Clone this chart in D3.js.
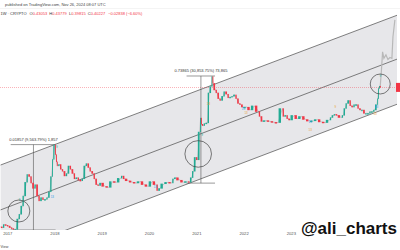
<!DOCTYPE html>
<html>
<head>
<meta charset="utf-8">
<script src="https://cdn.jsdelivr.net/npm/d3@7"></script>
<style>
html, body { margin:0; padding:0; background:#fff; }
svg { display:block; font-family:"Liberation Sans", Arial, sans-serif; }
</style>
</head>
<body>
<div class="chart"></div>
<script>
var dates = [
"2016-11-15","2016-12-01","2016-12-15","2017-01-01","2017-01-15","2017-02-01","2017-02-15","2017-03-01","2017-03-15",
"2017-04-01","2017-04-15","2017-05-01","2017-05-15","2017-06-01","2017-06-15","2017-07-01","2017-07-15","2017-08-01",
"2017-08-15","2017-09-01","2017-09-15","2017-10-01","2017-10-15","2017-11-01","2017-11-15","2017-12-01","2017-12-15",
"2017-12-25","2018-01-07","2018-01-15","2018-01-21","2018-02-01","2018-02-15","2018-03-01","2018-03-15","2018-04-01",
"2018-04-15","2018-05-01","2018-05-15","2018-06-01","2018-06-15","2018-07-01","2018-07-15","2018-08-01","2018-08-15",
"2018-09-01","2018-09-15","2018-10-01","2018-10-15","2018-11-01","2018-11-15","2018-12-01","2018-12-15","2019-01-01",
"2019-02-01","2019-03-01","2019-04-01","2019-05-01","2019-06-01","2019-06-15","2019-07-01","2019-08-01","2019-09-01",
"2019-10-01","2019-11-01","2019-12-01","2020-01-01","2020-02-01","2020-03-01","2020-03-15","2020-04-01","2020-05-01",
"2020-06-01","2020-07-01","2020-07-15","2020-08-01","2020-09-01","2020-10-01","2020-11-01","2020-11-15","2020-12-01",
"2020-12-15","2021-01-01","2021-01-15","2021-02-01","2021-02-08","2021-02-15","2021-03-01","2021-03-15","2021-04-01",
"2021-04-15","2021-05-01","2021-05-08","2021-05-15","2021-06-01","2021-06-15","2021-07-01","2021-07-15","2021-08-01",
"2021-08-15","2021-09-01","2021-09-15","2021-10-01","2021-10-15","2021-11-01","2021-11-15","2021-12-01","2021-12-15",
"2022-01-01","2022-02-01","2022-03-01","2022-04-01","2022-05-01","2022-05-15","2022-06-01","2022-07-01","2022-08-01",
"2022-09-01","2022-10-01","2022-11-01","2022-11-15","2022-12-01","2022-12-15","2023-01-01","2023-02-01","2023-03-01",
"2023-04-01","2023-05-01","2023-06-01","2023-07-01","2023-08-01","2023-09-01","2023-10-01","2023-11-01","2023-11-15",
"2023-12-01","2023-12-15","2024-01-01","2024-02-01","2024-02-15","2024-03-01","2024-03-15","2024-04-01","2024-04-15",
"2024-05-01","2024-05-15","2024-06-01","2024-06-15","2024-07-01","2024-07-15","2024-08-01","2024-08-15","2024-09-01",
"2024-09-15","2024-10-01","2024-10-15","2024-11-01","2024-11-08","2024-11-15","2024-11-22","2024-11-26"
];
var closes = [
0.00023,0.00022,0.00026,0.00025,0.00024,0.00022,0.00021,0.00020,0.00020,
0.00035,0.00045,0.00070,0.0012,0.0025,0.0038,0.0034,0.0024,0.0018,
0.0022,0.0012,0.00092,0.0011,0.00098,0.0010,0.0011,0.0015,0.0034,
0.0085,0.0185,0.0110,0.0075,0.0060,0.0065,0.0050,0.0045,0.0035,
0.0040,0.0060,0.0050,0.0040,0.0030,0.0032,0.0028,0.0027,0.0030,
0.0060,0.0068,0.0055,0.0045,0.0040,0.0030,0.0022,0.0021,0.0024,
0.0020,0.0019,0.0026,0.0025,0.0031,0.0035,0.0030,0.0027,0.0025,
0.0024,0.0026,0.0022,0.0020,0.0026,0.0022,0.0016,0.0018,0.0023,
0.0025,0.0024,0.0030,0.0032,0.0028,0.0025,0.0026,0.0025,0.0032,
0.0045,0.0095,0.0083,0.037,0.078,0.056,0.052,0.058,0.060,
0.30,0.42,0.72,0.50,0.35,0.30,0.22,0.20,0.25,
0.32,0.28,0.23,0.24,0.25,0.27,0.22,0.17,0.16,
0.14,0.14,0.12,0.15,0.11,0.085,0.065,0.068,0.065,
0.062,0.061,0.13,0.085,0.090,0.075,0.070,0.090,0.075,
0.085,0.072,0.066,0.067,0.072,0.063,0.061,0.070,0.080,
0.090,0.095,0.090,0.080,0.090,0.13,0.17,0.20,0.15,
0.14,0.16,0.16,0.13,0.12,0.12,0.10,0.10,0.10,
0.11,0.11,0.12,0.16,0.22,0.38,0.43,0.40227
];

// grey projected path on the right
var ghostDates = ["2024-11-26","2024-12-05","2024-12-15","2024-12-25","2025-01-10","2025-01-25","2025-02-10","2025-02-25","2025-03-05","2025-03-20"];
var ghostPrices = [0.40, 0.9, 2.7, 1.9, 2.3, 1.8, 2.0, 1.9, 6.0, 15];

// log channel
var channelDates = ["2016-11-15","2025-04-10"];
var channelUpper = [0.0063, 19.4];
var channelMid = [0.00057, 1.85];
var channelLower = [0.000051, 0.165];

// price range measurements
var measureStart = ["2017-02-01","2020-10-22"];
var measureEnd = ["2018-01-14","2021-05-30"];
var measureMid = ["2017-07-27","2021-02-10"];
var measureLow = [0.000194, 0.00239];
var measureHigh = [0.0188, 0.741];
var measureText = ["0.01857 (9,563.79%) 1,857","0.73865 (30,853.75%) 73,865"];

// circled breakouts
var circleDates = ["2017-04-05","2021-01-20","2024-11-27"];
var circlePrices = [0.000537, 0.0114, 0.483];
var circleRadius = [11, 13.3, 10];

// small sequential count labels
var markDates = ["2017-04-10","2018-01-24","2017-12-20","2020-02-25","2021-02-20","2021-04-10","2022-01-05","2022-01-25","2023-06-05","2023-06-05","2023-12-15","2024-10-18","2024-10-30","2024-11-27"];
var markPrices = [0.0009, 0.016, 0.0011, 0.0018, 0.03, 0.16, 0.12, 0.097, 0.06, 0.039, 0.134, 0.092, 0.134, 0.7];
var markLabels = ["9","9","13","13","9","13","13","13","13","13","9","13","13","9"];
var markKinds = ["g","g","b","b","g","o","b","o","b","o","o","o","b","g"];

var yearTicks = [2017, 2018, 2019, 2020, 2021, 2022, 2023];

var ohlcKeys = ["O","H","L","C"];
var ohlcVals = ["0.43053","0.43779","0.39815","0.40227"];
var changeText = "\u22120.02838 (\u22126.60%)";

function wrapper(){

var w = 400, h = 250;
var svg = d3.select("div.chart")
            .append("svg")
            .attr("width", w)
            .attr("height", h);

var parse = d3.utcParse("%Y-%m-%d");

var x = d3.scaleUtc()
          .domain([parse("2016-11-15"), parse("2025-04-10")])
          .range([0.6, 397.6]);
var y = d3.scaleLog()
          .domain([0.000194, 26.8])
          .range([230, 9]);

svg.append("clipPath").attr("id", "plot")
   .append("rect").attr("x", 0).attr("y", 9).attr("width", 397).attr("height", 221);

var plot = svg.append("g").attr("clip-path", "url(#plot)");

//channel fill
var cd = channelDates.map(parse);
var poly = [[x(cd[0]), y(channelUpper[0])], [x(cd[1]), y(channelUpper[1])],
            [x(cd[1]), y(channelLower[1])], [x(cd[0]), y(channelLower[0])]];
plot.append("path")
    .attr("d", "M" + poly.join("L") + "Z")
    .attr("fill", "#e7e7ea");

var chLine = d3.line().x(function(d){ return x(d[0]); }).y(function(d){ return y(d[1]); });
[channelUpper, channelMid, channelLower].forEach(function(arr){
  plot.append("path")
      .attr("d", chLine(cd.map(function(t, i){ return [t, arr[i]]; })))
      .attr("fill", "none")
      .attr("stroke", "#4a4a4a")
      .attr("stroke-width", 0.7);
});

//current price line
var last = closes[closes.length - 1];
plot.append("line")
    .attr("x1", 0).attr("x2", 397)
    .attr("y1", y(last)).attr("y2", y(last))
    .attr("stroke", "#f23645")
    .attr("stroke-width", 0.6)
    .attr("stroke-dasharray", "1,1")
    .attr("opacity", 0.7);

//ghost projection
plot.append("path")
    .attr("d", chLine(ghostDates.map(function(d, i){ return [parse(d), ghostPrices[i]]; })))
    .attr("fill", "none")
    .attr("stroke", "#b8b8b8")
    .attr("stroke-width", 1.2);

//measure tools
measureText.forEach(function(t, i){
  var x0 = x(parse(measureStart[i])), x1 = x(parse(measureEnd[i])), xm = x(parse(measureMid[i]));
  var g = plot.append("g").attr("stroke", "#555").attr("stroke-width", 0.6);
  g.append("line").attr("x1", x0).attr("x2", x1).attr("y1", y(measureHigh[i])).attr("y2", y(measureHigh[i]));
  g.append("line").attr("x1", x0).attr("x2", x1).attr("y1", y(measureLow[i])).attr("y2", y(measureLow[i]));
  g.append("line").attr("x1", xm).attr("x2", xm).attr("y1", y(measureHigh[i])).attr("y2", y(measureLow[i]));
  plot.append("text")
      .attr("x", xm).attr("y", y(measureHigh[i]) - 4)
      .attr("text-anchor", "middle")
      .attr("font-size", 4)
      .attr("fill", "#333")
      .text(t);
});

//thin close path so candles read as a continuous series
plot.append("path")
    .attr("d", chLine(dates.map(function(d, i){ return [parse(d), closes[i]]; })))
    .attr("fill", "none")
    .attr("stroke", "#8a8a8a")
    .attr("stroke-width", 0.4);

//candles
var candles = closes.slice(1).map(function(c, i){
  return {t0: parse(dates[i]), t1: parse(dates[i + 1]), o: closes[i], c: c};
});
plot.selectAll(".candle")
    .data(candles)
    .enter()
    .append("rect")
      .attr("class", "candle")
      .attr("x", function(d){ return x(d.t0) + 0.3; })
      .attr("width", function(d){ return Math.max(0.9, Math.min(2.4, x(d.t1) - x(d.t0) - 0.5)); })
      .attr("y", function(d){ return Math.min(y(d.o), y(d.c)) - 0.2; })
      .attr("height", function(d){ return Math.max(1.4, Math.abs(y(d.o) - y(d.c)) + 0.4); })
      .attr("fill", function(d){ return d.c >= d.o ? "#22ab94" : "#f23645"; });

//count labels
var markColor = {g: "#22ab94", b: "#2e9be6", o: "#e8a33a"};
plot.selectAll(".mark")
    .data(markLabels)
    .enter()
    .append("text")
      .attr("x", function(d, i){ return x(parse(markDates[i])); })
      .attr("y", function(d, i){ return y(markPrices[i]); })
      .attr("text-anchor", "middle")
      .attr("font-size", 3)
      .attr("fill", function(d, i){ return markColor[markKinds[i]]; })
      .text(function(d){ return d; });

//circles
plot.selectAll(".ring")
    .data(circleDates)
    .enter()
    .append("circle")
      .attr("cx", function(d){ return x(parse(d)); })
      .attr("cy", function(d, i){ return y(circlePrices[i]); })
      .attr("r", function(d, i){ return circleRadius[i]; })
      .attr("fill", "none")
      .attr("stroke", "#444")
      .attr("stroke-width", 0.7);

//price label on right edge
svg.append("rect")
   .attr("x", 396).attr("y", y(last) - 4.5)
   .attr("width", 10).attr("height", 9)
   .attr("fill", "#f23645");

//x axis
var xAxis = d3.axisBottom(x)
              .tickValues(yearTicks.map(function(d){ return parse(d + "-01-01"); }))
              .tickFormat(d3.utcFormat("%Y"))
              .tickSize(0)
              .tickPadding(2);
var ax = svg.append("g").attr("transform", "translate(0.6,230.5)").call(xAxis);
ax.select(".domain").remove();
ax.selectAll("text").attr("font-size", 4.2).attr("fill", "#555").attr("font-family", "Liberation Sans, Arial, sans-serif");

//header
svg.append("line").attr("x1", 0).attr("x2", 400).attr("y1", 8.5).attr("y2", 8.5)
   .attr("stroke", "#ececec").attr("stroke-width", 0.6);
svg.append("text").attr("x", 5).attr("y", 6).attr("font-size", 4).attr("fill", "#444")
   .text("published on TradingView.com, Nov 26, 2024 08:07 UTC");

var hdr = svg.append("text").attr("x", 0.5).attr("y", 15).attr("font-size", 4).attr("fill", "#333");
hdr.append("tspan").text("1W \u00b7 CRYPTO");
ohlcKeys.forEach(function(k, i){
  hdr.append("tspan").attr("dx", i === 0 ? 3 : 2.2).text(k);
  hdr.append("tspan").attr("fill", "#f23645").text(ohlcVals[i]);
});
hdr.append("tspan").attr("dx", 3).attr("fill", "#f23645").text(changeText);

//footer
svg.append("text").attr("x", 0.5).attr("y", 248)
   .attr("font-size", 3.6).attr("fill", "#444").text("View");

svg.append("text")
   .attr("x", 397).attr("y", 234)
   .attr("text-anchor", "end")
   .attr("font-size", 17)
   .attr("font-weight", "bold")
   .attr("fill", "#111")
   .text("@ali_charts");
}
window.onload = wrapper();
</script>
</body>
</html>
